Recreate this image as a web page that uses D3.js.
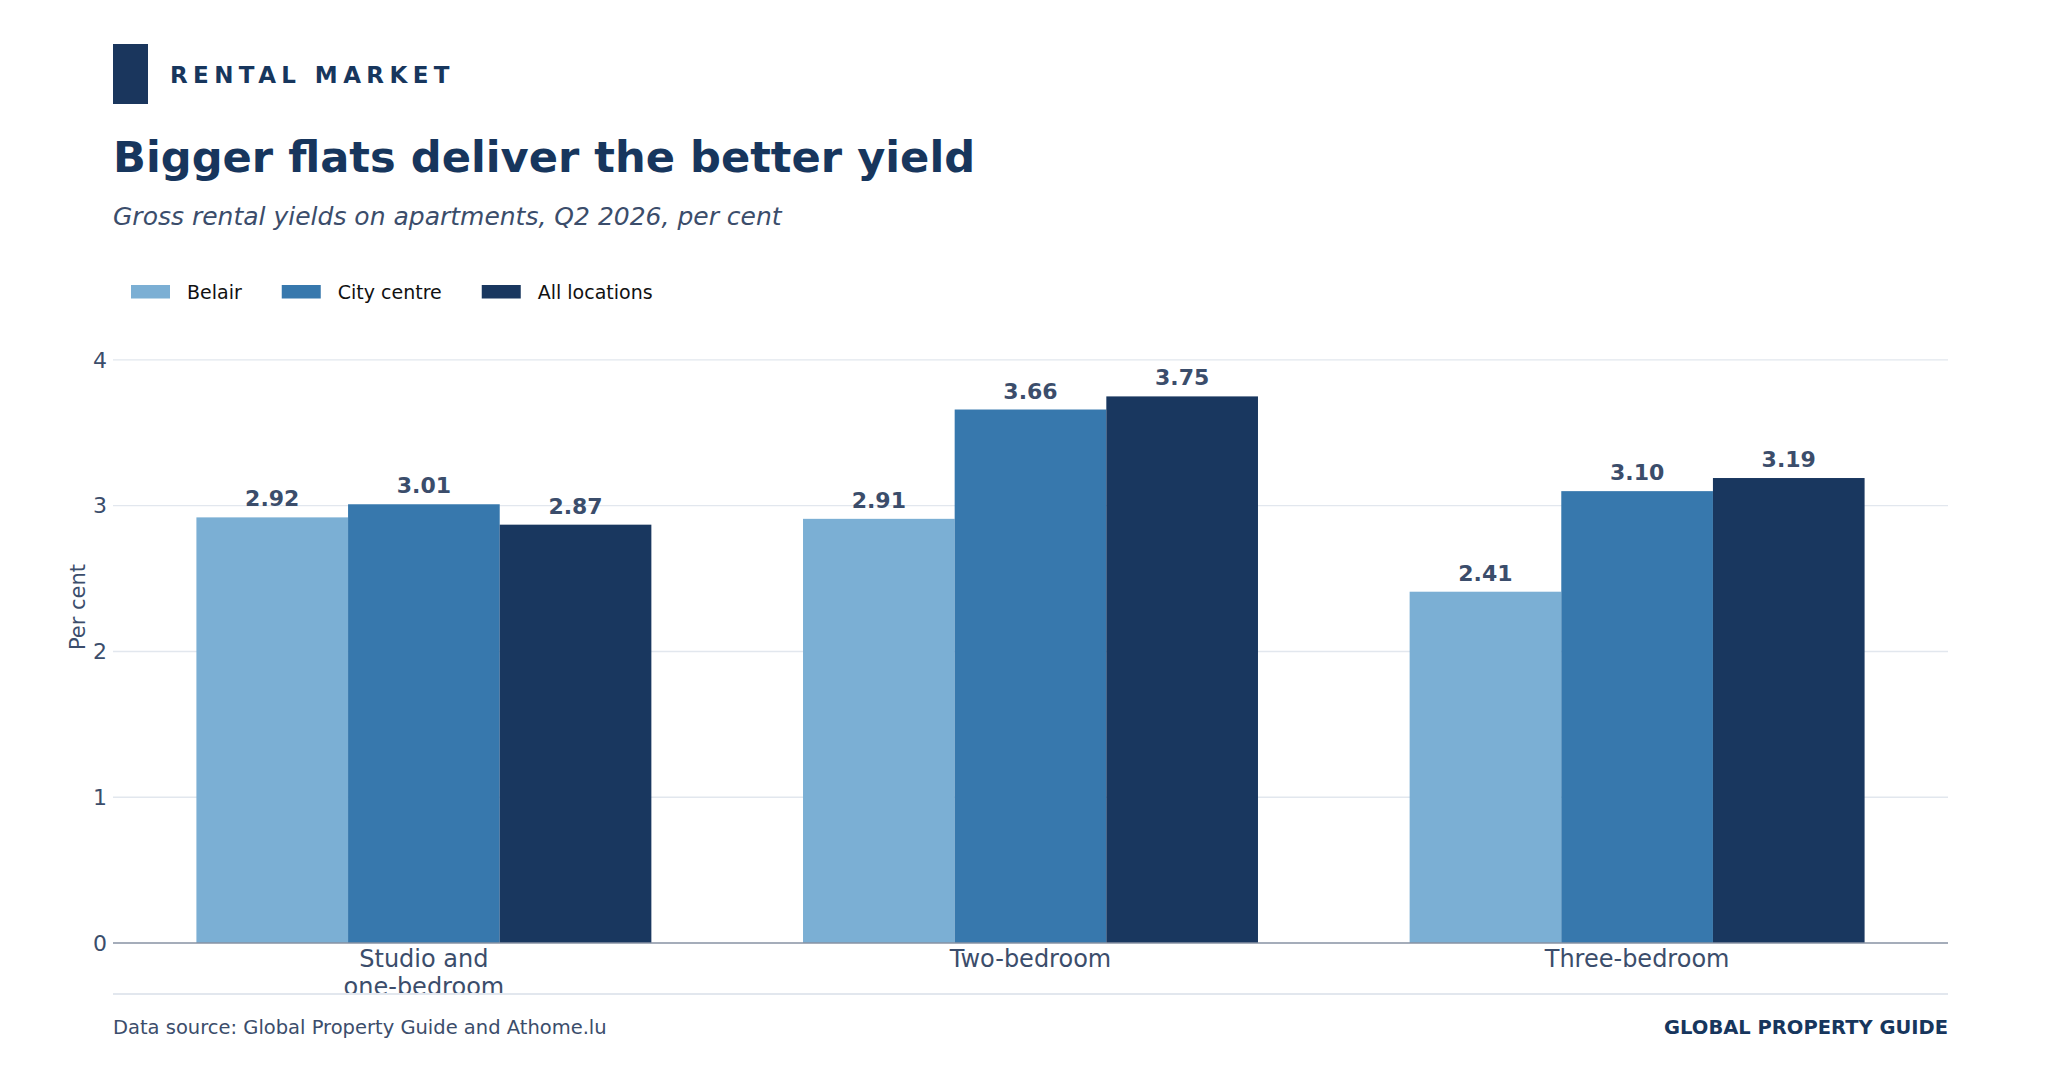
<!DOCTYPE html>
<html>
<head>
<meta charset="utf-8">
<script src="https://cdn.jsdelivr.net/npm/d3@7"></script>
<style>
  html, body { margin: 0; padding: 0; background: #ffffff; }
  svg { display: block; font-family: "DejaVu Sans", sans-serif; }
</style>
</head>
<body>
<svg id="chart" width="2060" height="1090"></svg>
<script>
// ---- Data ----
const categories = ["Studio and\none-bedroom", "Two-bedroom", "Three-bedroom"];
const seriesNames = ["Belair", "City centre", "All locations"];
const belair = [2.92, 2.91, 2.41];
const cityCentre = [3.01, 3.66, 3.10];
const allLocations = [2.87, 3.75, 3.19];
const yTicks = [0, 1, 2, 3, 4];
const seriesColors = ["#7bafd4", "#3778ad", "#19375f"];

const seriesValues = [belair, cityCentre, allLocations];

// ---- Layout ----
const W = 2060, H = 1090;
const plotLeft = 113, plotRight = 1948, plotBottom = 943, plotTop = 272.5;
const navy = "#17365d";
const slate = "#3b4d6b";

const svg = d3.select("#chart");
svg.append("rect").attr("width", W).attr("height", H).attr("fill", "#fff");

// Header
svg.append("rect").attr("x", 113).attr("y", 44).attr("width", 35).attr("height", 60).attr("fill", "#1a365d");
svg.append("text").attr("x", 170).attr("y", 83)
  .attr("font-size", 23).attr("font-weight", "bold").attr("fill", navy)
  .attr("letter-spacing", "5.4px")
  .text("RENTAL MARKET");
svg.append("text").attr("x", 113).attr("y", 172)
  .attr("font-size", 43.2).attr("font-weight", "bold").attr("fill", navy)
  .text("Bigger flats deliver the better yield");
svg.append("text").attr("x", 113).attr("y", 225)
  .attr("font-size", 25).attr("font-style", "italic").attr("fill", slate)
  .text("Gross rental yields on apartments, Q2 2026, per cent");

// Legend
const legend = svg.append("g");
let lx = 131;
seriesNames.forEach((name, i) => {
  const g = legend.append("g").attr("transform", `translate(${lx},0)`);
  g.append("rect").attr("x", 0).attr("y", 285).attr("width", 39).attr("height", 13.5).attr("fill", seriesColors[i]);
  const t = g.append("text").attr("x", 56).attr("y", 299)
    .attr("font-size", 19).attr("fill", "#111").text(name);
  lx += 56 + t.node().getComputedTextLength() + 40;
});

// Scales
const x0 = d3.scaleBand().domain(d3.range(categories.length)).range([plotLeft, plotRight])
  .paddingInner(0.25).paddingOuter(0.1375);
const x1 = d3.scaleBand().domain(d3.range(seriesNames.length)).range([0, x0.bandwidth()]).padding(0);
const y = d3.scaleLinear().domain([0, 4.6]).range([plotBottom, plotTop]);

// Gridlines
svg.append("g").selectAll("line").data(yTicks.filter(d => d > 0)).join("line")
  .attr("x1", plotLeft).attr("x2", plotRight)
  .attr("y1", d => y(d)).attr("y2", d => y(d))
  .attr("stroke", "#e2e7ee").attr("stroke-width", 1.3);

// Y axis labels
const yAxis = d3.axisLeft(y).tickValues(yTicks).tickSize(0).tickPadding(6).tickFormat(d3.format("d"));
const yg = svg.append("g").attr("transform", `translate(${plotLeft},0)`).call(yAxis);
yg.select(".domain").remove();
yg.selectAll("text").attr("font-size", 22).attr("fill", slate).attr("font-family", "DejaVu Sans, sans-serif");

svg.append("text")
  .attr("transform", `translate(85,607) rotate(-90)`)
  .attr("text-anchor", "middle").attr("font-size", 21).attr("fill", slate)
  .text("Per cent");

// Bars
const groups = svg.append("g").selectAll("g").data(categories).join("g")
  .attr("transform", (d, i) => `translate(${x0(i)},0)`);
groups.each(function(cat, ci) {
  const g = d3.select(this);
  seriesValues.forEach((vals, si) => {
    g.append("rect")
      .attr("x", x1(si)).attr("width", x1.bandwidth())
      .attr("y", y(vals[ci])).attr("height", y(0) - y(vals[ci]))
      .attr("fill", seriesColors[si]);
    g.append("text")
      .attr("x", x1(si) + x1.bandwidth() / 2).attr("y", y(vals[ci]) - 11)
      .attr("text-anchor", "middle").attr("font-size", 22).attr("font-weight", "bold")
      .attr("fill", slate).text(d3.format(".2f")(vals[ci]));
  });
});

// Baseline axis
svg.append("line").attr("x1", plotLeft).attr("x2", plotRight)
  .attr("y1", y(0)).attr("y2", y(0)).attr("stroke", "#8792a3").attr("stroke-width", 1.5);

// X labels
categories.forEach((c, i) => {
  const t = svg.append("text")
    .attr("x", x0(i) + x0.bandwidth() / 2).attr("y", 967)
    .attr("text-anchor", "middle").attr("font-size", 24).attr("fill", slate);
  c.split("\n").forEach((line, li) => {
    t.append("tspan").attr("x", x0(i) + x0.bandwidth() / 2).attr("dy", li === 0 ? 0 : 27.6).text(line);
  });
});

// Footer separator
svg.append("line").attr("x1", plotLeft).attr("x2", plotRight).attr("y1", 994).attr("y2", 994)
  .attr("stroke", "#e2e7ee").attr("stroke-width", 2);

svg.append("text").attr("x", 113).attr("y", 1034)
  .attr("font-size", 19.5).attr("fill", slate)
  .text("Data source: Global Property Guide and Athome.lu");
svg.append("text").attr("x", plotRight).attr("y", 1034)
  .attr("text-anchor", "end").attr("font-size", 19.5).attr("font-weight", "bold").attr("fill", navy)
  .text("GLOBAL PROPERTY GUIDE");
</script>
</body>
</html>
